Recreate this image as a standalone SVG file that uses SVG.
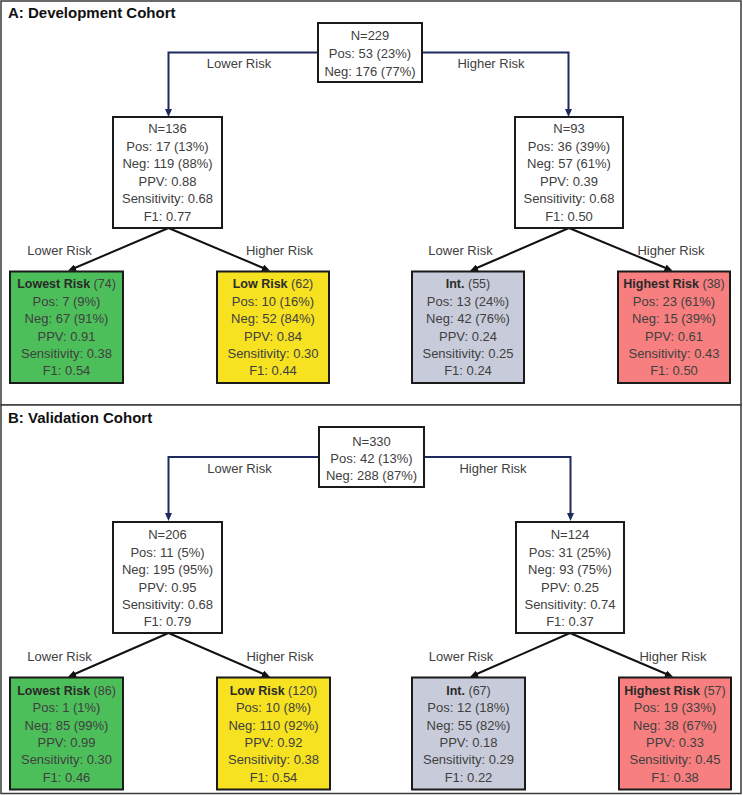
<svg xmlns="http://www.w3.org/2000/svg" width="743" height="795" viewBox="0 0 743 795">
<style>
text{font-family:"Liberation Sans",Arial,sans-serif;font-size:13px;fill:#404040;text-anchor:middle}
.title{font-size:15px;font-weight:bold;fill:#111;text-anchor:start}
.box{stroke:#1a1a1a;stroke-width:2}
.w{fill:#fff}.g{fill:#4dbf5a}.y{fill:#f6e221}.s{fill:#c8ccda}.r{fill:#f77f7f}
.lt{font-size:12.5px}
.b{font-weight:bold;fill:#2a2a2a}
.nav{fill:none;stroke:#1f2b5e;stroke-width:2}
.blk{fill:none;stroke:#111;stroke-width:2}
.panel{fill:#fff;stroke:#3a3a3a;stroke-width:1.5}
</style>
<defs>
<marker id="an" markerWidth="8" markerHeight="7" refX="2" refY="3.5" orient="auto" markerUnits="userSpaceOnUse"><path d="M0,0 L8,3.5 L0,7 z" fill="#1f2b5e"/></marker>
<marker id="ab" markerWidth="8" markerHeight="7" refX="2" refY="3.5" orient="auto" markerUnits="userSpaceOnUse"><path d="M0,0 L8,3.5 L0,7 z" fill="#111"/></marker>
</defs>
<rect class="panel" x="1" y="1" width="740" height="404"/>
<rect class="panel" x="1" y="405" width="740" height="388.5"/>
<text class="title" x="8" y="17.5">A: Development Cohort</text>
<text class="title" x="8" y="422.5">B: Validation Cohort</text>

<g id="connectors">
<path class="nav" d="M318,52.5 H168.5 V111" marker-end="url(#an)"/>
<path class="nav" d="M422,52.5 H568.5 V111" marker-end="url(#an)"/>
<path class="blk" d="M168.5,228 L73.5,268.5" marker-end="url(#ab)"/>
<path class="blk" d="M168.5,228 L264.5,268.5" marker-end="url(#ab)"/>
<path class="blk" d="M569,228 L475.5,268.5" marker-end="url(#ab)"/>
<path class="blk" d="M569,228 L667,268.5" marker-end="url(#ab)"/>
<path class="nav" d="M319,457 H168.5 V515" marker-end="url(#an)"/>
<path class="nav" d="M424,457 H570.5 V515" marker-end="url(#an)"/>
<path class="blk" d="M168.5,633 L73.5,674.5" marker-end="url(#ab)"/>
<path class="blk" d="M168.5,633 L264.5,674.5" marker-end="url(#ab)"/>
<path class="blk" d="M570,633 L475.5,674.5" marker-end="url(#ab)"/>
<path class="blk" d="M570,633 L667.5,674.5" marker-end="url(#ab)"/>
</g>
<g id="edge-labels">
<text x="239" y="68">Lower Risk</text>
<text x="491" y="68">Higher Risk</text>
<text x="59.5" y="255">Lower Risk</text>
<text x="279.5" y="255">Higher Risk</text>
<text x="460.5" y="255">Lower Risk</text>
<text x="671" y="255">Higher Risk</text>
<text x="239.5" y="473">Lower Risk</text>
<text x="493" y="473">Higher Risk</text>
<text x="59.5" y="660.5">Lower Risk</text>
<text x="280" y="660.5">Higher Risk</text>
<text x="461" y="660.5">Lower Risk</text>
<text x="673" y="660.5">Higher Risk</text>
</g>

<g id="A-root">
<rect class="box w" x="318" y="23" width="104" height="59"/>
<text x="370" y="40">N=229</text>
<text x="370" y="57.5">Pos: 53 (23%)</text>
<text x="370" y="75.5">Neg: 176 (77%)</text>
</g>
<g id="A-left">
<rect class="box w" x="113" y="117" width="109" height="111"/>
<text x="167.5" y="133">N=136</text>
<text x="167.5" y="150.5">Pos: 17 (13%)</text>
<text x="167.5" y="168">Neg: 119 (88%)</text>
<text x="167.5" y="185.5">PPV: 0.88</text>
<text x="167.5" y="203">Sensitivity: 0.68</text>
<text x="167.5" y="220.5">F1: 0.77</text>
</g>
<g id="A-right">
<rect class="box w" x="515" y="117" width="108" height="111"/>
<text x="569" y="133">N=93</text>
<text x="569" y="150.5">Pos: 36 (39%)</text>
<text x="569" y="168">Neg: 57 (61%)</text>
<text x="569" y="185.5">PPV: 0.39</text>
<text x="569" y="203">Sensitivity: 0.68</text>
<text x="569" y="220.5">F1: 0.50</text>
</g>
<g id="A-lowest">
<rect class="box g" x="10" y="271.5" width="113" height="111.5"/>
<text class="lt" x="66.5" y="288.3"><tspan class="b">Lowest Risk</tspan> (74)</text>
<text x="66.5" y="305.7">Pos: 7 (9%)</text>
<text x="66.5" y="323.1">Neg: 67 (91%)</text>
<text x="66.5" y="340.5">PPV: 0.91</text>
<text x="66.5" y="357.9">Sensitivity: 0.38</text>
<text x="66.5" y="375.3">F1: 0.54</text>
</g>
<g id="A-low">
<rect class="box y" x="217" y="271.5" width="112" height="111.5"/>
<text class="lt" x="273" y="288.3"><tspan class="b">Low Risk</tspan> (62)</text>
<text x="273" y="305.7">Pos: 10 (16%)</text>
<text x="273" y="323.1">Neg: 52 (84%)</text>
<text x="273" y="340.5">PPV: 0.84</text>
<text x="273" y="357.9">Sensitivity: 0.30</text>
<text x="273" y="375.3">F1: 0.44</text>
</g>
<g id="A-int">
<rect class="box s" x="412" y="271.5" width="112" height="111.5"/>
<text class="lt" x="468" y="288.3"><tspan class="b">Int.</tspan> (55)</text>
<text x="468" y="305.7">Pos: 13 (24%)</text>
<text x="468" y="323.1">Neg: 42 (76%)</text>
<text x="468" y="340.5">PPV: 0.24</text>
<text x="468" y="357.9">Sensitivity: 0.25</text>
<text x="468" y="375.3">F1: 0.24</text>
</g>
<g id="A-highest">
<rect class="box r" x="618" y="271.5" width="112" height="111.5"/>
<text class="lt" x="674" y="288.3"><tspan class="b">Highest Risk</tspan> (38)</text>
<text x="674" y="305.7">Pos: 23 (61%)</text>
<text x="674" y="323.1">Neg: 15 (39%)</text>
<text x="674" y="340.5">PPV: 0.61</text>
<text x="674" y="357.9">Sensitivity: 0.43</text>
<text x="674" y="375.3">F1: 0.50</text>
</g>

<g id="B-root">
<rect class="box w" x="319" y="427" width="105" height="60"/>
<text x="371.5" y="445.5">N=330</text>
<text x="371.5" y="462.5">Pos: 42 (13%)</text>
<text x="371.5" y="480">Neg: 288 (87%)</text>
</g>
<g id="B-left">
<rect class="box w" x="113" y="522" width="109" height="111"/>
<text x="167.5" y="539">N=206</text>
<text x="167.5" y="556.5">Pos: 11 (5%)</text>
<text x="167.5" y="574">Neg: 195 (95%)</text>
<text x="167.5" y="591.5">PPV: 0.95</text>
<text x="167.5" y="609">Sensitivity: 0.68</text>
<text x="167.5" y="626">F1: 0.79</text>
</g>
<g id="B-right">
<rect class="box w" x="516" y="522" width="108" height="111"/>
<text x="570" y="539">N=124</text>
<text x="570" y="556.5">Pos: 31 (25%)</text>
<text x="570" y="574">Neg: 93 (75%)</text>
<text x="570" y="591.5">PPV: 0.25</text>
<text x="570" y="609">Sensitivity: 0.74</text>
<text x="570" y="626">F1: 0.37</text>
</g>
<g id="B-lowest">
<rect class="box g" x="10" y="677.5" width="113" height="112"/>
<text class="lt" x="66.5" y="695"><tspan class="b">Lowest Risk</tspan> (86)</text>
<text x="66.5" y="712">Pos: 1 (1%)</text>
<text x="66.5" y="729.5">Neg: 85 (99%)</text>
<text x="66.5" y="747">PPV: 0.99</text>
<text x="66.5" y="764">Sensitivity: 0.30</text>
<text x="66.5" y="781.5">F1: 0.46</text>
</g>
<g id="B-low">
<rect class="box y" x="217" y="677.5" width="113" height="112"/>
<text class="lt" x="273.5" y="695"><tspan class="b">Low Risk</tspan> (120)</text>
<text x="273.5" y="712">Pos: 10 (8%)</text>
<text x="273.5" y="729.5">Neg: 110 (92%)</text>
<text x="273.5" y="747">PPV: 0.92</text>
<text x="273.5" y="764">Sensitivity: 0.38</text>
<text x="273.5" y="781.5">F1: 0.54</text>
</g>
<g id="B-int">
<rect class="box s" x="412" y="677.5" width="113" height="112"/>
<text class="lt" x="468.5" y="695"><tspan class="b">Int.</tspan> (67)</text>
<text x="468.5" y="712">Pos: 12 (18%)</text>
<text x="468.5" y="729.5">Neg: 55 (82%)</text>
<text x="468.5" y="747">PPV: 0.18</text>
<text x="468.5" y="764">Sensitivity: 0.29</text>
<text x="468.5" y="781.5">F1: 0.22</text>
</g>
<g id="B-highest">
<rect class="box r" x="619" y="677.5" width="112" height="112"/>
<text class="lt" x="675" y="695"><tspan class="b">Highest Risk</tspan> (57)</text>
<text x="675" y="712">Pos: 19 (33%)</text>
<text x="675" y="729.5">Neg: 38 (67%)</text>
<text x="675" y="747">PPV: 0.33</text>
<text x="675" y="764">Sensitivity: 0.45</text>
<text x="675" y="781.5">F1: 0.38</text>
</g>
</svg>
